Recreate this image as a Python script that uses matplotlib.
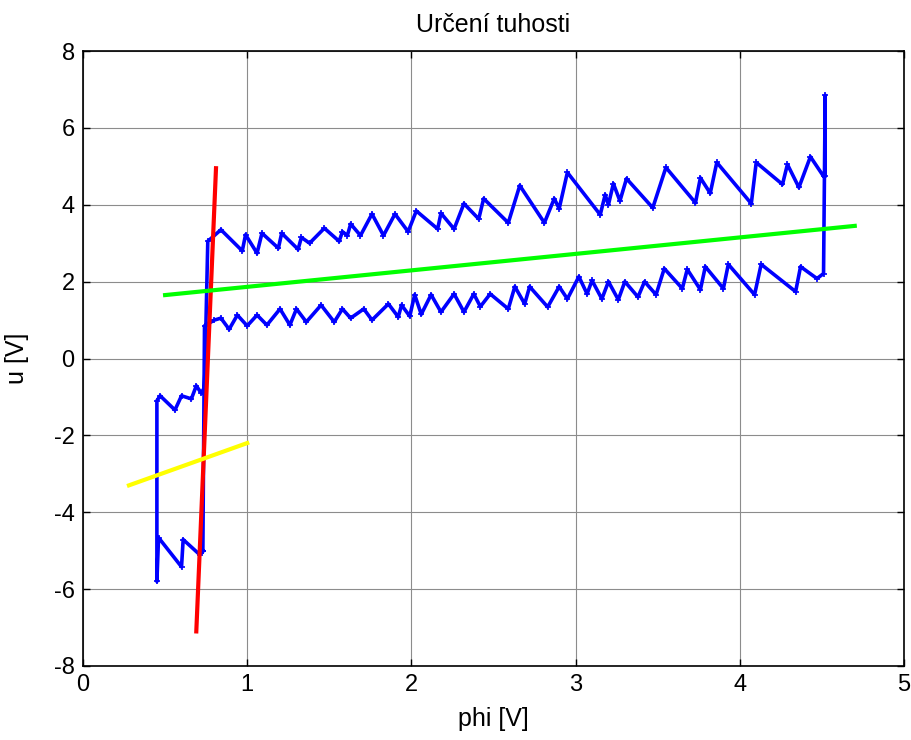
import matplotlib
matplotlib.use("Agg")
import matplotlib.pyplot as plt

plt.rcParams['font.family'] = ['Liberation Sans', 'DejaVu Sans']
plt.rcParams['axes.unicode_minus'] = False

# Measured hysteresis loop (phi, u)
phi_lower = [0.73, 0.74, 0.80, 0.84, 0.89, 0.94, 1.00, 1.06, 1.12, 1.20, 1.26, 1.30, 1.36, 1.45, 1.53, 1.58,
             1.63, 1.71, 1.76, 1.86, 1.92, 1.94, 1.99, 2.02, 2.06, 2.12, 2.18, 2.26, 2.32, 2.38, 2.42, 2.48,
             2.59, 2.63, 2.69, 2.72, 2.83, 2.90, 2.95, 3.02, 3.07, 3.10, 3.16, 3.20, 3.26, 3.30, 3.38, 3.42,
             3.49, 3.54, 3.65, 3.68, 3.76, 3.79, 3.90, 3.93, 4.09, 4.13, 4.34, 4.37, 4.47, 4.51]
u_lower = [-5.00, 0.85, 1.00, 1.05, 0.76, 1.13, 0.85, 1.13, 0.87, 1.29, 0.87, 1.29, 0.95, 1.39, 0.95, 1.29,
           1.05, 1.29, 1.00, 1.42, 1.08, 1.39, 1.10, 1.66, 1.15, 1.66, 1.21, 1.68, 1.21, 1.68, 1.35, 1.68,
           1.29, 1.87, 1.42, 1.87, 1.34, 1.87, 1.55, 2.13, 1.68, 2.03, 1.55, 2.00, 1.53, 2.00, 1.60, 2.00,
           1.66, 2.34, 1.82, 2.32, 1.79, 2.39, 1.82, 2.45, 1.66, 2.45, 1.74, 2.39, 2.08, 2.21]

phi_right = [4.52, 4.52]
u_right = [6.85, 4.74]

phi_upper = [0.76, 0.84, 0.97, 0.99, 1.06, 1.09, 1.19, 1.21, 1.31, 1.33, 1.38, 1.47, 1.56, 1.58, 1.61, 1.63,
             1.69, 1.76, 1.83, 1.90, 1.98, 2.03, 2.16, 2.18, 2.26, 2.32, 2.41, 2.44, 2.59, 2.66, 2.81, 2.87,
             2.90, 2.95, 3.15, 3.18, 3.20, 3.23, 3.27, 3.31, 3.47, 3.55, 3.73, 3.76, 3.82, 3.86, 4.07, 4.10,
             4.26, 4.29, 4.36, 4.43, 4.51]
u_upper = [3.05, 3.35, 2.80, 3.22, 2.74, 3.26, 2.87, 3.26, 2.84, 3.15, 3.00, 3.39, 3.05, 3.30, 3.20, 3.50,
           3.20, 3.76, 3.20, 3.76, 3.30, 3.84, 3.37, 3.78, 3.37, 4.03, 3.63, 4.16, 3.53, 4.50, 3.53, 4.16,
           3.90, 4.84, 3.74, 4.26, 4.00, 4.55, 4.10, 4.68, 3.92, 4.97, 4.05, 4.70, 4.30, 5.10, 4.03, 5.10,
           4.53, 5.05, 4.45, 5.25, 4.74]

phi_left = [0.74, 0.72, 0.69, 0.66, 0.60, 0.56, 0.47, 0.45, 0.45, 0.46, 0.60, 0.61, 0.71, 0.73]
u_left = [-0.75, -0.90, -0.71, -1.05, -0.97, -1.34, -0.97, -1.10, -5.80, -4.66, -5.42, -4.71, -5.10, -5.00]

# Fitted lines
phi_red = [0.69, 0.81]
u_red = [-7.10, 4.95]
phi_green = [0.50, 4.70]
u_green = [1.65, 3.45]
phi_yellow = [0.28, 1.00]
u_yellow = [-3.30, -2.20]

phi_loop = phi_lower + phi_right + phi_upper[::-1] + phi_left
u_loop = u_lower + u_right + u_upper[::-1] + u_left

fig = plt.figure(figsize=(9.12, 7.40), dpi=100)
ax = fig.add_axes([83/912, 1 - 666/740, (904-83)/912, (666-51)/740])

ax.plot(phi_loop, u_loop, color='#0000ff', lw=2.6, marker='+', ms=5, mew=1.2, zorder=3)
ax.plot(phi_red, u_red, color='#ff0000', lw=3, zorder=4)
ax.plot(phi_green, u_green, color='#00ff00', lw=3, zorder=4)
ax.plot(phi_yellow, u_yellow, color='#ffff00', lw=3, zorder=4)

ax.set_xlim(0, 5)
ax.set_ylim(-8, 8)
ax.set_xticks([0, 1, 2, 3, 4, 5])
ax.set_yticks([-8, -6, -4, -2, 0, 2, 4, 6, 8])
ax.grid(True, color='#8c8c8c', lw=0.8, ls='-')
ax.set_axisbelow(True)
ax.tick_params(direction='in', length=5, width=1, top=True, right=True, labelsize=17, pad=6)
for s in ax.spines.values():
    s.set_linewidth(1.2)

ax.set_title('Určení tuhosti', fontsize=18, pad=14)
ax.set_xlabel('phi [V]', fontsize=18, labelpad=8)
ax.set_ylabel('u [V]', fontsize=18, labelpad=18)

fig.savefig('out.png', dpi=100)
